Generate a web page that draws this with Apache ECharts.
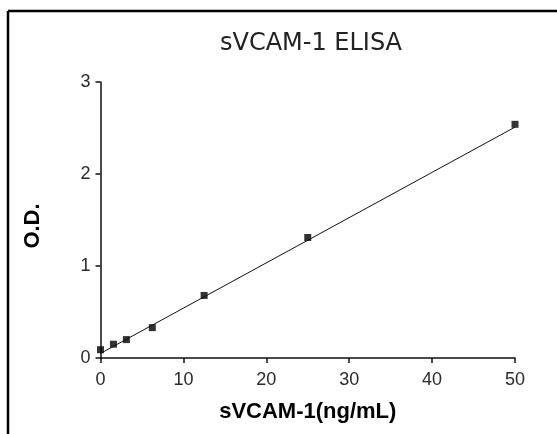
<!DOCTYPE html>
<html>
<head>
<meta charset="utf-8">
<script src="https://cdn.jsdelivr.net/npm/echarts@6/dist/echarts.min.js"></script>
<style>
  html, body { margin: 0; padding: 0; background: #fff; }
  #chart { width: 557px; height: 434px; }
</style>
</head>
<body>
<div id="chart"></div>
<script>
// standard concentrations (ng/mL) and measured O.D.
const conc = [0, 1.5625, 3.125, 6.25, 12.5, 25, 50];
const od = [0.09, 0.15, 0.20, 0.33, 0.68, 1.31, 2.54];

// fitted standard curve, read at its two ends
const fitX = [0, 50];
const fitY = [0.05, 2.51];

const xTicks = [0, 10, 20, 30, 40, 50];
const yTicks = [0, 1, 2, 3];

const chart = echarts.init(document.getElementById('chart'));

const axisCommon = {
  axisLine: { show: true, lineStyle: { color: '#111', width: 1.5 } },
  axisTick: { show: true, inside: false, length: 5, lineStyle: { color: '#111', width: 1.5 } },
  splitLine: { show: false },
  axisLabel: { color: '#2a2a2a', fontSize: 18, fontFamily: 'Liberation Sans' },
  nameTextStyle: { color: '#000', fontSize: 22, fontWeight: 'bold', fontFamily: 'Liberation Sans' }
};

chart.setOption({
  backgroundColor: '#fff',
  animation: false,
  title: {
    text: 'sVCAM-1 ELISA',
    left: 306,
    top: 27,
    textAlign: 'center',
    textStyle: { color: '#222', fontSize: 24, fontWeight: 'normal', fontFamily: 'DejaVu Sans' }
  },
  grid: { left: 100.5, right: 42, top: 82, bottom: 76 },
  xAxis: Object.assign({}, axisCommon, {
    type: 'value',
    min: xTicks[0],
    max: xTicks[xTicks.length - 1],
    interval: 10,
    name: 'sVCAM-1(ng/mL)',
    nameLocation: 'middle',
    nameGap: 43,
    axisLabel: Object.assign({}, axisCommon.axisLabel, { margin: 13 })
  }),
  yAxis: Object.assign({}, axisCommon, {
    type: 'value',
    min: yTicks[0],
    max: yTicks[yTicks.length - 1],
    interval: 1,
    axisLabel: Object.assign({}, axisCommon.axisLabel, { margin: 10 })
  }),
  series: [
    {
      type: 'line',
      data: fitX.map((x, i) => [x, fitY[i]]),
      showSymbol: false,
      lineStyle: { color: '#111', width: 1 },
      silent: true
    },
    {
      type: 'scatter',
      data: conc.map((x, i) => [x, od[i]]),
      symbol: 'rect',
      symbolSize: 7,
      itemStyle: { color: '#000' }
    }
  ],
  graphic: [
    { type: 'line', shape: { x1: 8, y1: 11, x2: 557, y2: 11 }, style: { stroke: '#000', lineWidth: 2.5 } },
    { type: 'line', shape: { x1: 8, y1: 11, x2: 8, y2: 434 }, style: { stroke: '#000', lineWidth: 2.5 } },
    {
      type: 'text', x: 33, y: 226, rotation: Math.PI / 2,
      style: {
        text: 'O.D.', fill: '#000', fontSize: 22, fontWeight: 'bold',
        fontFamily: 'Liberation Sans', align: 'center', verticalAlign: 'middle'
      }
    }
  ]
});
</script>
</body>
</html>
